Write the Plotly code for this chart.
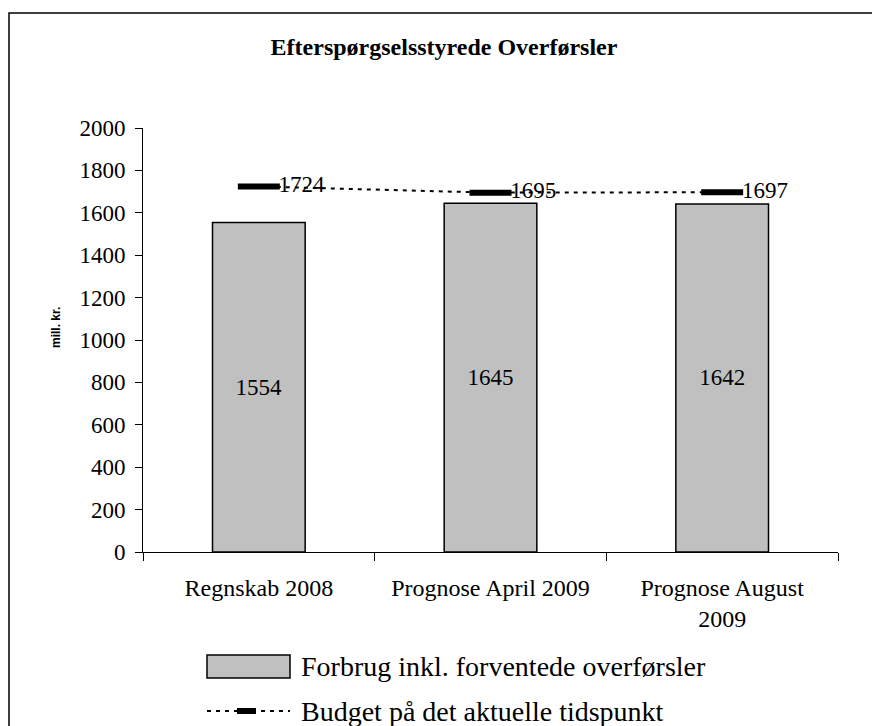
import plotly.graph_objects as go

categories = ["Regnskab 2008", "Prognose April 2009", "Prognose August<br>2009"]
forbrug = [1554, 1645, 1642]
budget = [1724, 1695, 1697]
y_ticks = [0, 200, 400, 600, 800, 1000, 1200, 1400, 1600, 1800, 2000]
legend_names = ["Forbrug inkl. forventede overførsler", "Budget på det aktuelle tidspunkt"]

SERIF = "Liberation Serif"

# plot area in figure pixels
L, T, PW, PH = 135, 120, 695, 424


def px(x):
    return (x - L) / PW


def py(y):
    return (T + PH - y) / PH


fig = go.Figure()

fig.add_trace(go.Bar(
    x=categories, y=forbrug,
    name=legend_names[0],
    marker=dict(color="#C0C0C0", line=dict(color="black", width=1.5)),
    text=[str(v) for v in forbrug],
    textposition="inside", insidetextanchor="middle",
    textfont=dict(family=SERIF, size=23, color="black"),
))

fig.add_trace(go.Scatter(
    x=categories, y=budget,
    name=legend_names[1],
    mode="lines+markers+text",
    line=dict(color="black", width=2, dash="4px,5px"),
    marker=dict(symbol="line-ew", size=30, line=dict(color="black", width=6)),
    text=[str(v) for v in budget],
    textposition="middle right",
    textfont=dict(family=SERIF, size=23, color="black"),
))

fig.update_layout(
    width=872, height=718,
    margin=dict(l=L, r=872 - L - PW, t=T, b=718 - T - PH),
    paper_bgcolor="white", plot_bgcolor="white",
    bargap=0.6,
    showlegend=False,
    font=dict(family=SERIF, size=23, color="black"),
    title=dict(text="<b>Efterspørgselsstyrede Overførsler</b>",
               x=0.5, xanchor="center", y=1 - 39 / 718, yanchor="middle",
               font=dict(family=SERIF, size=24, color="black")),
)

fig.update_xaxes(
    type="category", showline=True, linecolor="black", linewidth=1,
    ticks="outside", tickson="boundaries", ticklen=8, tickcolor="black",
    showgrid=False, tickfont=dict(family=SERIF, size=24),
    ticklabelstandoff=14,
)
fig.update_yaxes(
    range=[0, 2000], tickvals=y_ticks, showline=True, linecolor="black",
    linewidth=1, ticks="outside", ticklen=7, tickcolor="black",
    showgrid=False, zeroline=False, tickfont=dict(family=SERIF, size=23),
    ticklabelstandoff=5,
)

# y axis title
fig.add_annotation(text="<b>mill. kr.</b>", textangle=-90, showarrow=False,
                   xref="paper", yref="paper", x=px(48), y=py(320),
                   xanchor="center", yanchor="middle",
                   font=dict(family="Liberation Sans Narrow, Liberation Sans", size=12, color="black"))

# outer frame around the chart
fig.add_shape(type="rect", xref="paper", yref="paper",
              x0=px(1), x1=px(865), y0=py(760), y1=py(5),
              line=dict(color="black", width=1.5), fillcolor="rgba(0,0,0,0)")

# legend keys
fig.add_shape(type="rect", xref="paper", yref="paper",
              x0=px(199), x1=px(282), y0=py(670), y1=py(647),
              line=dict(color="black", width=1.5), fillcolor="#C0C0C0")
fig.add_shape(type="line", xref="paper", yref="paper",
              x0=px(199), x1=px(282), y0=py(703), y1=py(703),
              line=dict(color="black", width=2, dash="4px,5px"))
fig.add_shape(type="line", xref="paper", yref="paper",
              x0=px(229), x1=px(248), y0=py(703), y1=py(703),
              line=dict(color="black", width=6))
for name, yy in zip(legend_names, [658, 703]):
    fig.add_annotation(text=name, showarrow=False, xref="paper", yref="paper",
                       x=px(291), y=py(yy), xanchor="left", yanchor="middle",
                       font=dict(family=SERIF, size=28, color="black"))

fig.write_html("out.html")
